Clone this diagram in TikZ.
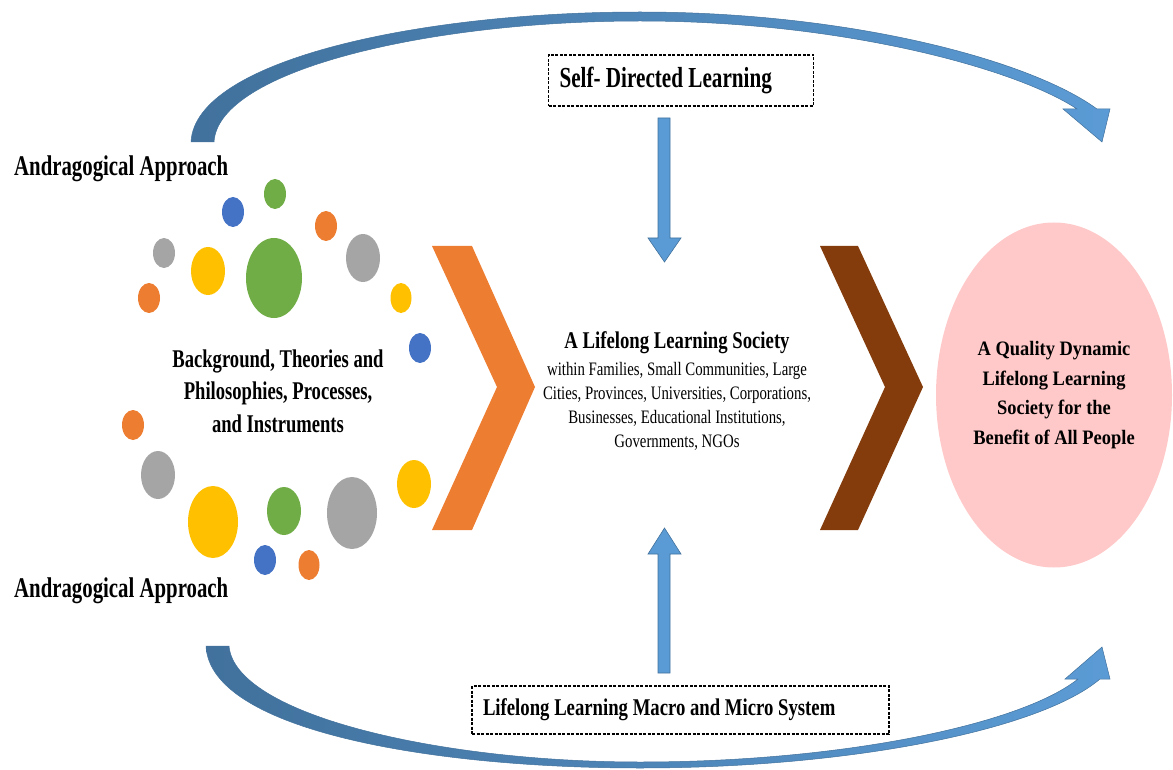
\documentclass[tikz,border=0pt]{standalone}
\usepackage{fontspec}
\setmainfont{Liberation Serif}
\newfontfamily\tnr[FakeStretch=0.78]{Liberation Serif}
\newfontfamily\tnrc[FakeStretch=0.73]{Liberation Serif}
\newfontfamily\tnrw[FakeStretch=0.9]{Liberation Serif}
\usetikzlibrary{shapes.geometric}
\definecolor{arcdark}{HTML}{41719C}
\definecolor{arclight}{HTML}{5B9BD5}
\definecolor{arcedge}{HTML}{41719C}
\definecolor{cblue}{HTML}{4472C4}
\definecolor{cgreen}{HTML}{70AD47}
\definecolor{corange}{HTML}{ED7D31}
\definecolor{cgray}{HTML}{A5A5A5}
\definecolor{cyellow}{HTML}{FFC000}
\definecolor{cbrown}{HTML}{843C0C}
\definecolor{cpink}{HTML}{FFC9C9}
\tikzset{
  bigarc/.style={left color=arcdark, right color=arclight, draw=arcedge, line width=0.5pt},
  blockarrow/.style={fill=arclight, draw=arcedge, line width=0.6pt},
  dashbox/.style={draw=black, line width=1.5pt, dash pattern=on 3pt off 1.5pt, align=flush left, inner xsep=11pt, inner ysep=0pt},
  lbl/.style={font=\tnrc\bfseries\fontsize{28.5}{32}\selectfont, inner sep=0pt, anchor=west}
}
\begin{document}
\begin{tikzpicture}[x=1pt,y=-1pt]
\useasboundingbox (0,0) rectangle (1173,770);
% big curved arrows
\shadedraw[bigarc] (191,142) .. controls (195,60) and (420,12) .. (640,12)
  .. controls (850,12) and (1030,60) .. (1097,109) -- (1110,109) -- (1102,142)
  -- (1063,109) -- (1077,109) .. controls (1015,68) and (840,21) .. (640,21)
  .. controls (430,21) and (218,70) .. (214,142) -- cycle;
\shadedraw[bigarc] (206,646) .. controls (210,730) and (430,768) .. (640,768)
  .. controls (850,768) and (1040,730) .. (1100,679) -- (1110,679) -- (1102,647)
  -- (1065,679) -- (1078,679) .. controls (1020,725) and (840,762) .. (640,762)
  .. controls (440,762) and (235,715) .. (229,646) -- cycle;
% labels
\node[lbl] (andtop) at (14,169) {Andragogical Approach};
\node[lbl] (andbot) at (14,591) {Andragogical Approach};
% dashed boxes
\node[dashbox, text width=243pt, minimum height=51pt, font=\tnrc\bfseries\fontsize{29}{32}\selectfont] (sdl) at (681,80.5) {Self- Directed Learning};
\node[dashbox, text width=395pt, minimum height=48pt, font=\tnr\bfseries\fontsize{24}{28}\selectfont] (macro) at (680.5,710) {Lifelong Learning Macro and Micro System};
% vertical block arrows
\coordinate (ta) at (664,118);
\coordinate (ba) at (664,673);
\filldraw[blockarrow] ([xshift=-6pt]ta) -- ([xshift=6pt]ta) -- (670,238) -- (681,238) -- (664.5,262) -- (648,238) -- (658,238) -- cycle;
\filldraw[blockarrow] ([xshift=-6pt]ba) -- ([xshift=6pt]ba) -- (670,554) -- (681,554) -- (664.5,528) -- (648,554) -- (658,554) -- cycle;
% chevrons
\fill[corange] (432,246) -- (472,246) -- (535,387) -- (472,530) -- (432,530) -- (497,387) -- cycle;
\fill[cbrown] (820,246) -- (858,246) -- (923,387) -- (858,530) -- (820,530) -- (885,387) -- cycle;
% circles
\fill[cblue]   (233,212) ellipse [x radius=11pt, y radius=15pt];
\fill[cgreen]  (275,194) ellipse [x radius=11pt, y radius=15pt];
\fill[corange] (326,226) ellipse [x radius=11pt, y radius=15pt];
\fill[cgray]   (164,253) ellipse [x radius=11pt, y radius=15pt];
\fill[cyellow] (208,271) ellipse [x radius=17pt, y radius=24pt];
\fill[cgreen]  (274,278) ellipse [x radius=28pt, y radius=40pt];
\fill[cgray]   (363,258) ellipse [x radius=17pt, y radius=24pt];
\fill[corange] (149,298) ellipse [x radius=11pt, y radius=15pt];
\fill[cyellow] (401,298) ellipse [x radius=10.5pt, y radius=15pt];
\fill[cblue]   (420,348) ellipse [x radius=11pt, y radius=15pt];
\fill[corange] (133,425) ellipse [x radius=11pt, y radius=15pt];
\fill[cgray]   (158,475) ellipse [x radius=17pt, y radius=24pt];
\fill[cyellow] (213,522) ellipse [x radius=25pt, y radius=36pt];
\fill[cgreen]  (284,511) ellipse [x radius=17pt, y radius=24pt];
\fill[cgray]   (352,513) ellipse [x radius=25pt, y radius=36pt];
\fill[cyellow] (414,484) ellipse [x radius=17pt, y radius=24pt];
\fill[cblue]   (265,560) ellipse [x radius=11pt, y radius=15pt];
\fill[corange] (309,565) ellipse [x radius=10.5pt, y radius=15pt];
% central texts
\node[align=center, inner sep=0pt, font=\tnrc\bfseries\fontsize{25.5}{32.5}\selectfont] (bg) at (278,391) {Background, Theories and\\Philosophies, Processes,\\and Instruments};
\node[align=center, inner sep=0pt, font=\tnr\bfseries\fontsize{24}{28}\selectfont] (soc) at (677,343) {A Lifelong Learning Society};
\node[align=center, inner sep=0pt, font=\tnr\fontsize{19}{24}\selectfont] (socsub) at (677,406) {within Families, Small Communities, Large\\Cities, Provinces, Universities, Corporations,\\Businesses, Educational Institutions,\\Governments, NGOs};
% goal ellipse
\node[ellipse, fill=cpink, minimum width=236pt, minimum height=345pt, inner sep=0pt, align=center, font=\tnrw\bfseries\fontsize{20.5}{29.5}\selectfont] (goal) at (1054,395) {A Quality Dynamic\\Lifelong Learning\\Society for the\\Benefit of All People};
\end{tikzpicture}
\end{document}
